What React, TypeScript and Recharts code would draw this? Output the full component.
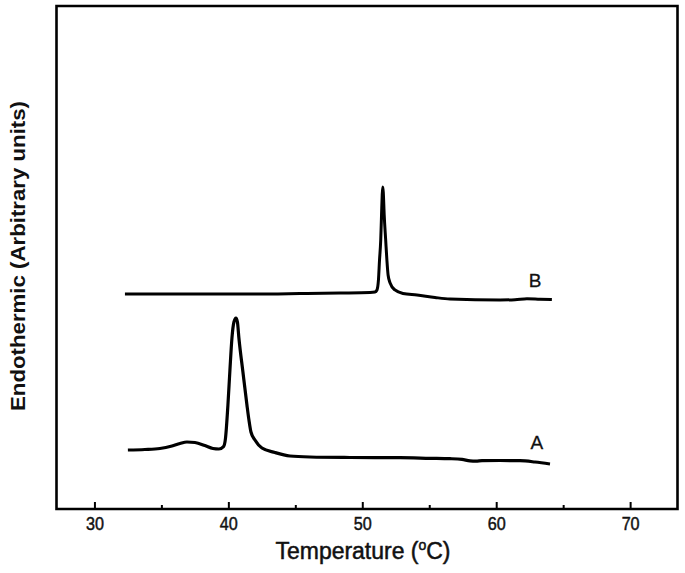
import React from 'react';
import { LineChart, Line, XAxis, YAxis, ReferenceArea, ReferenceDot } from 'recharts';

// Temperature (°C) vs endothermic signal (arbitrary units)
const tempA = [32.46, 33.73, 34.85, 35.75, 36.35, 36.87, 37.47, 38.21, 38.81, 39.26, 39.6, 39.75, 39.93, 40.08, 40.23, 40.38, 40.53, 40.64, 40.75, 41.05, 41.35, 41.5, 41.65, 41.95, 42.47, 43.44, 44.56, 46.06, 49.04, 52.78, 55.02, 56.51, 57.41, 58.01, 58.45, 58.9, 60.25, 61.74, 62.86, 63.98];
const signalA = [11.73, 11.83, 12.03, 12.52, 13.02, 13.32, 13.22, 12.62, 12.03, 11.93, 12.4, 14.1, 20.68, 27.63, 33.99, 37.18, 37.97, 37.18, 33.99, 27.24, 20.68, 17.69, 15.31, 13.72, 12.13, 11.23, 10.54, 10.34, 10.24, 10.2, 10.08, 10.0, 9.85, 9.55, 9.5, 9.6, 9.64, 9.6, 9.34, 8.95];

const tempB = [32.24, 37.84, 43.07, 45.31, 48.3, 50.54, 50.91, 51.06, 51.17, 51.25, 51.34, 51.4, 51.45, 51.49, 51.53, 51.6, 51.71, 51.8, 51.89, 52.04, 52.4, 53.0, 54.05, 55.39, 56.51, 60.25, 61.37, 62.26, 63.23, 64.12];
const signalB = [42.74, 42.74, 42.74, 42.84, 42.94, 43.04, 43.14, 43.54, 45.53, 49.5, 53.48, 58.45, 62.43, 64.0, 63.0, 58.45, 53.48, 49.5, 46.52, 44.93, 43.54, 42.84, 42.54, 42.05, 41.75, 41.55, 41.62, 41.82, 41.72, 41.65];

const xTicks = [30, 35, 40, 45, 50, 55, 60, 65, 70];
const xDomain = [27.13, 73.5];
const yDomain = [0, 100];
const curveLabels = [
  { name: 'A', t: 63.0, v: 13.3 },
  { name: 'B', t: 62.86, v: 45.5 },
];

const dataA = tempA.map((t, i) => ({ t, v: signalA[i] }));
const dataB = tempB.map((t, i) => ({ t, v: signalB[i] }));

const FONT = '"Liberation Sans", Arial, sans-serif';

const Tick = (props: any) => {
  const { x, y, payload } = props;
  const major = payload.value % 10 === 0;
  return (
    <g>
      <line x1={x} y1={y} x2={x} y2={y - (major ? 7 : 4)} stroke="#000" strokeWidth={2} />
      {major && (
        <text
          x={x}
          y={y + 21}
          textAnchor="middle"
          fontFamily={FONT}
          fontSize={19}
          textLength={18}
          lengthAdjust="spacingAndGlyphs"
          fill="#111"
          stroke="#111"
          strokeWidth={0.5}
        >
          {payload.value}
        </text>
      )}
    </g>
  );
};

const XTitle = () => (
  <text
    x={363}
    y={559}
    textAnchor="middle"
    fontFamily={FONT}
    fontSize={23}
    textLength={175}
    lengthAdjust="spacingAndGlyphs"
    fill="#111"
    stroke="#111"
    strokeWidth={0.5}
  >
    Temperature (<tspan dy={-9} fontSize={14}>o</tspan>
    <tspan dy={9}>C)</tspan>
  </text>
);

const YTitle = () => (
  <text
    x={0}
    y={0}
    transform="translate(25 256) rotate(-90)"
    textAnchor="middle"
    fontFamily={FONT}
    fontWeight="bold"
    fontSize={21}
    textLength={310}
    lengthAdjust="spacingAndGlyphs"
    fill="#111"
  >
    Endothermic (Arbitrary units)
  </text>
);

export default function App() {
  return (
    <div style={{ position: 'absolute', left: 0, top: 0, background: '#fff' }}>
      <LineChart width={685} height={573} margin={{ top: 6, right: 7.5, left: 56.5, bottom: 0 }}>
        <XAxis
          dataKey="t"
          type="number"
          domain={xDomain}
          ticks={xTicks}
          allowDataOverflow
          axisLine={false}
          tickLine={false}
          tickSize={0}
          tickMargin={0}
          tick={<Tick />}
          height={64}
          interval={0}
          label={<XTitle />}
        />
        <YAxis type="number" domain={yDomain} hide />
        <ReferenceArea
          x1={xDomain[0]}
          x2={xDomain[1]}
          y1={yDomain[0]}
          y2={yDomain[1]}
          fill="none"
          stroke="#000"
          strokeWidth={2.6}
          fillOpacity={0}
          ifOverflow="visible"
        />
        <Line data={dataA} dataKey="v" type="monotone" stroke="#000" strokeWidth={3.2} dot={false} isAnimationActive={false} />
        <Line data={dataB} dataKey="v" type="monotone" stroke="#000" strokeWidth={3} dot={false} isAnimationActive={false} />
        {curveLabels.map((c) => (
          <ReferenceDot
            key={c.name}
            x={c.t}
            y={c.v}
            r={0}
            fill="none"
            stroke="none"
            label={(p: any) => (
              <text
                x={p.viewBox.cx ?? p.viewBox.x + (p.viewBox.width || 0) / 2}
                y={(p.viewBox.cy ?? p.viewBox.y + (p.viewBox.height || 0) / 2) + 7}
                textAnchor="middle"
                fontFamily={FONT}
                fontSize={19}
                fill="#111"
                stroke="#111"
                strokeWidth={0.3}
              >
                {c.name}
              </text>
            )}
          />
        ))}
      </LineChart>
      <div style={{ position: 'absolute', left: 0, top: 0, pointerEvents: 'none' }}>
        <svg width={685} height={573}>
          <YTitle />
        </svg>
      </div>
    </div>
  );
}
